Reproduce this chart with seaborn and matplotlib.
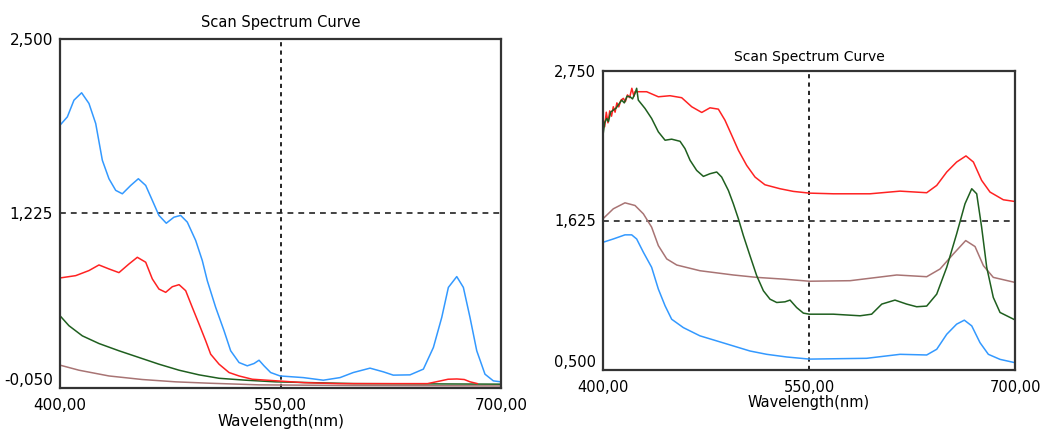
import matplotlib
matplotlib.use("Agg")
import matplotlib.pyplot as plt
import seaborn as sns
import pandas as pd

# ---------------- data: left panel ----------------
L_blue_x = [400, 405.0, 409.5, 414.7, 419.7, 424.3, 428.8, 433.3, 437.9, 442.4, 448.1, 453.3, 458.3, 462.8,
            467.3, 472.3, 477.5, 482.1, 486.6, 492.3, 496.8, 500.2, 505.9, 511.6, 516.1, 521.8, 527.4, 532.0,
            535.4, 538.8, 543.3, 549.7, 565.5, 579.1, 590.5, 599.5, 610.9, 620.0, 626.7, 638.1, 647.2, 654.0,
            659.7, 664.2, 669.9, 674.4, 678.9, 683.5, 689.1, 694.8, 700]
L_blue_y = [1.870, 1.931, 2.053, 2.107, 2.029, 1.882, 1.614, 1.479, 1.394, 1.369, 1.430, 1.479, 1.430, 1.321,
            1.211, 1.154, 1.198, 1.211, 1.162, 1.028, 0.881, 0.734, 0.539, 0.368, 0.222, 0.136, 0.112, 0.129,
            0.153, 0.112, 0.063, 0.038, 0.026, 0.007, 0.026, 0.063, 0.095, 0.068, 0.044, 0.046, 0.088, 0.246,
            0.466, 0.685, 0.764, 0.685, 0.466, 0.222, 0.051, 0.002, -0.005]

L_red_x = [400, 410.7, 419.7, 426.5, 433.3, 440.1, 446.9, 452.6, 458.3, 462.8, 467.3, 471.9, 476.4, 481.0,
           485.5, 490.0, 494.6, 499.1, 502.5, 508.2, 515.0, 521.8, 530.8, 547.8, 566.1, 589.1, 635.2, 650.0,
           658.0, 664.0, 670.0, 675.0, 679.0, 684.0]
L_red_y = [0.754, 0.771, 0.808, 0.849, 0.820, 0.793, 0.856, 0.905, 0.869, 0.747, 0.673, 0.649, 0.690, 0.705,
           0.661, 0.539, 0.417, 0.295, 0.197, 0.124, 0.063, 0.038, 0.014, 0.002, -0.011, -0.018, -0.018, -0.018,
           0.000, 0.014, 0.016, 0.012, -0.005, -0.018]

L_green_x = [400, 406.1, 415.2, 426.5, 440.1, 453.7, 467.3, 481.0, 494.6, 508.2, 526.3, 546.7, 600, 700]
L_green_y = [0.478, 0.405, 0.331, 0.275, 0.222, 0.173, 0.124, 0.080, 0.046, 0.021, 0.007, -0.005, -0.018,
             -0.022]

L_brown_x = [400, 412.9, 433.3, 456.0, 478.7, 501.4, 535.4, 600, 700]
L_brown_y = [0.117, 0.080, 0.038, 0.012, -0.005, -0.015, -0.027, -0.032, -0.035]

# ---------------- data: right panel ----------------
R_red_x = [400, 401.2, 402.4, 403.6, 404.9, 406.2, 407.5, 408.8, 410.1, 411.5, 413.0, 414.8, 416.3, 417.8,
           419.4, 421.0, 422.5, 423.3, 431.8, 440.3, 448.8, 457.3, 464.6, 471.9, 477.9, 484.0, 488.8, 493.7,
           498.6, 504.6, 510.7, 517.9, 528.9, 538.6, 550.3, 567.7, 594.4, 616.3, 635.7, 643.0, 650.3, 657.5,
           664.3, 669.7, 675.7, 681.8, 691.5, 700]
R_red_y = [2.393, 2.33, 2.44, 2.36, 2.45, 2.41, 2.481, 2.44, 2.51, 2.48, 2.53, 2.544, 2.52, 2.57,
           2.55, 2.62, 2.56, 2.594, 2.594, 2.556, 2.564, 2.549, 2.481, 2.438, 2.473, 2.463, 2.380, 2.267,
           2.153, 2.040, 1.952, 1.894, 1.864, 1.844, 1.831, 1.826, 1.826, 1.846, 1.834, 1.889, 1.990, 2.065,
           2.111, 2.065, 1.927, 1.839, 1.781, 1.768]

R_green_x = [400, 401.2, 402.7, 404.0, 405.5, 407.5, 409.5, 411.5, 413.6, 415.5, 417.5, 419.7, 421.5, 423.3,
             424.5, 425.7, 430.6, 435.4, 440.3, 445.2, 450.0, 456.1, 459.7, 463.4, 468.2, 473.1, 477.9, 482.8,
             486.4, 491.3, 494.9, 498.6, 502.2, 507.0, 511.9, 516.8, 521.6, 526.5, 532.5, 536.2, 541.0, 545.9,
             550.3, 567.7, 587.2, 595.6, 603.0, 612.6, 621.1, 628.4, 635.7, 643.0, 650.3, 657.5, 663.6, 668.5,
             672.1, 675.7, 679.4, 684.2, 689.1, 700]
R_green_y = [2.267, 2.36, 2.393, 2.37, 2.44, 2.456, 2.47, 2.50, 2.531, 2.51, 2.56, 2.556, 2.54, 2.581,
             2.62, 2.531, 2.468, 2.393, 2.292, 2.229, 2.237, 2.221, 2.166, 2.078, 2.002, 1.957, 1.977, 1.990,
             1.952, 1.851, 1.751, 1.637, 1.512, 1.361, 1.210, 1.096, 1.033, 1.008, 1.013, 1.026, 0.970, 0.928,
             0.920, 0.920, 0.908, 0.920, 0.996, 1.026, 0.996, 0.976, 0.981, 1.071, 1.273, 1.524, 1.751, 1.864,
             1.826, 1.575, 1.273, 1.046, 0.933, 0.877]

R_brown_x = [400, 407.5, 416.0, 423.3, 429.4, 435.4, 440.3, 446.4, 453.7, 470.6, 494.9, 511.9, 531.3, 550.3,
             579.9, 613.9, 635.7, 645.4, 655.1, 664.1, 670.9, 677.0, 684.2, 700]
R_brown_y = [1.638, 1.713, 1.758, 1.738, 1.675, 1.575, 1.436, 1.336, 1.290, 1.247, 1.215, 1.197, 1.184, 1.168,
             1.172, 1.215, 1.202, 1.260, 1.373, 1.474, 1.429, 1.285, 1.197, 1.159]

R_blue_x = [400, 407.5, 416.0, 420.9, 424.5, 429.4, 435.4, 440.3, 445.2, 450.0, 458.5, 470.6, 482.8, 494.9,
            507.0, 519.2, 533.7, 550.3, 592.0, 616.3, 635.7, 643.0, 650.3, 657.5, 663.1, 668.5, 674.5, 680.6,
            689.1, 700]
R_blue_y = [1.461, 1.486, 1.517, 1.517, 1.486, 1.386, 1.273, 1.109, 0.983, 0.882, 0.819, 0.757, 0.719, 0.681,
            0.643, 0.618, 0.598, 0.582, 0.588, 0.618, 0.613, 0.656, 0.769, 0.845, 0.875, 0.832, 0.706, 0.618,
            0.580, 0.555]

x_ticks = [400, 550, 700]
x_tick_labels = ["400,00", "550,00", "700,00"]
L_y_ticks = [-0.05, 1.225, 2.5]
L_y_tick_labels = ["-0,050", "1,225", "2,500"]
R_y_ticks = [0.5, 1.625, 2.75]
R_y_tick_labels = ["0,500", "1,625", "2,750"]
title = "Scan Spectrum Curve"
xlabel = "Wavelength(nm)"

# ---------------- style ----------------
sns.set_style("white")
plt.rcParams['font.family'] = ['DejaVu Sans']
plt.rcParams['text.color'] = 'black'
plt.rcParams['axes.labelcolor'] = 'black'
plt.rcParams['xtick.color'] = 'black'
plt.rcParams['ytick.color'] = 'black'

C_BLUE = "#3399ff"
C_RED = "#ff2222"
C_GREEN = "#1f5f1f"
C_BROWN = "#a87474"

fig = plt.figure(figsize=(10.42, 4.30), dpi=100)
axL = fig.add_axes([60 / 1042, (430 - 388) / 430, (501 - 60) / 1042, (388 - 39) / 430])
axR = fig.add_axes([603 / 1042, (430 - 370) / 430, (1015 - 603) / 1042, (370 - 71) / 430])


def draw(ax, series, ylim, yticks, ylabels, cross_y, fs, tpad):
    for xs, ys, c in series:
        df = pd.DataFrame({"x": xs, "y": ys})
        sns.lineplot(data=df, x="x", y="y", ax=ax, color=c, linewidth=1.1, sort=False,
                     estimator=None, solid_joinstyle="round")
    ax.axvline(550, color="black", linestyle=(0, (2.5, 2.5)), linewidth=1.2, zorder=0)
    ax.axhline(cross_y, color="#222222", linestyle=(0, (3.5, 3.0)), linewidth=1.2, zorder=0)
    ax.set_xlim(400, 700)
    ax.set_ylim(*ylim)
    ax.set_xticks(x_ticks)
    ax.set_xticklabels(x_tick_labels, fontsize=fs)
    ax.set_yticks(yticks)
    ax.set_yticklabels(ylabels, fontsize=fs)
    ax.tick_params(length=0, pad=5)
    ax.tick_params(axis="x", pad=7)
    ax.get_yticklabels()[0].set_va("bottom")
    ax.set_ylabel("")
    ax.set_title(title, fontsize=fs - 0.5, pad=tpad, color="black")
    for s in ax.spines.values():
        s.set_color("#333333")
        s.set_linewidth(1.6)
        s.set_visible(True)


draw(axL, [(L_brown_x, L_brown_y, C_BROWN), (L_green_x, L_green_y, C_GREEN),
           (L_red_x, L_red_y, C_RED), (L_blue_x, L_blue_y, C_BLUE)],
     (-0.05, 2.5), L_y_ticks, L_y_tick_labels, 1.225, 11, 9)
axL.set_xlabel(xlabel, fontsize=11, labelpad=1)

draw(axR, [(R_brown_x, R_brown_y, C_BROWN), (R_blue_x, R_blue_y, C_BLUE),
           (R_red_x, R_red_y, C_RED), (R_green_x, R_green_y, C_GREEN)],
     (0.5, 2.75), R_y_ticks, R_y_tick_labels, 1.625, 10.5, 7.5)
axR.set_xlabel(xlabel, fontsize=10.5, labelpad=0)

fig.savefig("out.png", dpi=100)
